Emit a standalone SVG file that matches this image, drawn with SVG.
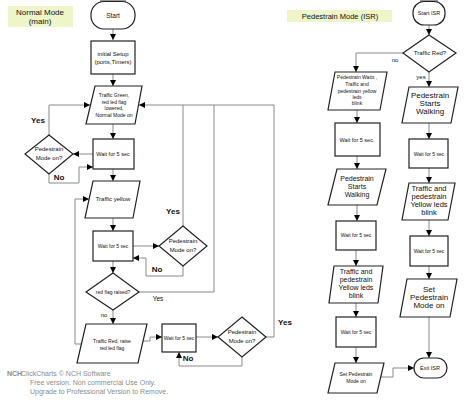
<svg xmlns="http://www.w3.org/2000/svg" width="474" height="401" viewBox="0 0 474 401">
<style>
.s{fill:#fff;stroke:#222;stroke-width:1.2}
.lab{fill:#eef5c8;stroke:none}
.t{font-family:"Liberation Sans",Arial,sans-serif;fill:#111;text-anchor:middle}
.b{font-weight:bold;font-size:8px}
.c{fill:none;stroke:#8a8a8a;stroke-width:1}
.w{font-family:"Liberation Sans",Arial,sans-serif;fill:#8c8c8c;font-size:7px}
</style>
<defs>
<marker id="arr" viewBox="0 0 10 10" refX="10" refY="5" markerWidth="6" markerHeight="6" markerUnits="userSpaceOnUse" orient="auto"><path d="M0,0 L10,5 L0,10 z" fill="#000"/></marker>
</defs>
<rect width="474" height="401" fill="#fff"/>

<g id="connectors">
<path class="c" marker-end="url(#arr)" d="M113,29 V40"/>
<path class="c" marker-end="url(#arr)" d="M113,74 V86"/>
<path class="c" marker-end="url(#arr)" d="M113,124 V139"/>
<path class="c" marker-end="url(#arr)" d="M93,154 H73"/>
<path class="c" marker-end="url(#arr)" d="M49,135 V105 H90"/>
<path class="c" marker-end="url(#arr)" d="M49,174 V183 H79 V167 H93"/>
<path class="c" marker-end="url(#arr)" d="M113,169 V181"/>
<path class="c" marker-end="url(#arr)" d="M113,218 V231"/>
<path class="c" marker-end="url(#arr)" d="M133,246 H159"/>
<path class="c" d="M183,226 V105"/>
<path class="c" marker-end="url(#arr)" d="M183,266 V276 H146 V258 H133"/>
<path class="c" marker-end="url(#arr)" d="M113,261 V273"/>
<path class="c" d="M139,292 H214 V105"/>
<path class="c" marker-end="url(#arr)" d="M113,310 V324"/>
<path class="c" marker-end="url(#arr)" d="M81,344 H75 V199 H89"/>
<path class="c" marker-end="url(#arr)" d="M143,341 H150 V337 H162"/>
<path class="c" marker-end="url(#arr)" d="M196,337 H218"/>
<path class="c" marker-end="url(#arr)" d="M266,337 H274 V105 H139"/>
<path class="c" marker-end="url(#arr)" d="M242,357 V366 H179 V352"/>

<path class="c" marker-end="url(#arr)" d="M429,25 V35"/>
<path class="c" marker-end="url(#arr)" d="M403,53 H356 V72"/>
<path class="c" marker-end="url(#arr)" d="M429,72 V87"/>
<path class="c" marker-end="url(#arr)" d="M357,110 V123"/>
<path class="c" marker-end="url(#arr)" d="M357,156 V169"/>
<path class="c" marker-end="url(#arr)" d="M357,205 V221"/>
<path class="c" marker-end="url(#arr)" d="M356,250 V266"/>
<path class="c" marker-end="url(#arr)" d="M356,303 V317"/>
<path class="c" marker-end="url(#arr)" d="M356,347 V363"/>
<path class="c" marker-end="url(#arr)" d="M381,377 H393 V368 H414"/>
<path class="c" marker-end="url(#arr)" d="M429,123 V139"/>
<path class="c" marker-end="url(#arr)" d="M429,168 V183"/>
<path class="c" marker-end="url(#arr)" d="M429,220 V236"/>
<path class="c" marker-end="url(#arr)" d="M429,266 V279"/>
<path class="c" marker-end="url(#arr)" d="M429,317 V358"/>
</g>

<g id="edge-labels">
<text class="t b" x="38" y="123">Yes</text>
<text class="t b" x="59" y="180">No</text>
<text class="t b" x="173" y="214">Yes</text>
<text class="t b" x="157" y="272">No</text>
<text class="t" x="158" y="301" font-size="6.5">Yes</text>
<text class="t" x="104" y="317" font-size="6">no</text>
<text class="t b" x="285" y="325">Yes</text>
<text class="t b" x="188" y="361">No</text>
<text class="t" x="395" y="62" font-size="6">no</text>
<text class="t" x="421" y="79" font-size="6">yes</text>
</g>

<g id="label-normal">
<rect class="lab" x="8" y="6" width="65" height="21"/>
<text class="t" x="40" y="15" font-size="8">Normal Mode</text>
<text class="t" x="40" y="24" font-size="8">(main)</text>
</g>

<g id="start">
<rect x="100" y="0" width="26" height="2" fill="#999"/>
<rect class="s" x="91" y="1.5" width="44" height="27.5" rx="13"/>
<text class="t" x="113" y="18" font-size="6.5">Start</text>
</g>

<g id="setup">
<rect class="s" x="91" y="41" width="44" height="33"/>
<text class="t" x="113" y="56" font-size="6">initial Setup</text>
<text class="t" x="113" y="64" font-size="6">(ports,Timers)</text>
</g>

<g id="traffic-green">
<polygon class="s" points="95,86 142,86 135,124 86,124"/>
<text class="t" x="114" y="97" font-size="5">Traffic Green,</text>
<text class="t" x="114" y="103.5" font-size="5">red led flag</text>
<text class="t" x="114" y="110" font-size="5">lowered,</text>
<text class="t" x="114" y="116.5" font-size="5">Normal Mode on</text>
</g>

<g id="wait1">
<rect class="s" x="93" y="139" width="41" height="30"/>
<text class="t" x="113" y="156" font-size="5.5">Wait for 5 sec</text>
</g>

<g id="ped1">
<polygon class="s" points="49,135 73,154 49,174 25,154"/>
<text class="t" x="49" y="151" font-size="6">Pedestrain</text>
<text class="t" x="49" y="160" font-size="6">Mode on?</text>
</g>

<g id="traffic-yellow">
<polygon class="s" points="93,181 140,181 133,218 85,218"/>
<text class="t" x="113" y="201" font-size="6">Traffic yellow</text>
</g>

<g id="wait2">
<rect class="s" x="93" y="231" width="40" height="30"/>
<text class="t" x="113" y="248" font-size="5">Wait for 5 sec</text>
</g>

<g id="ped2">
<polygon class="s" points="183,226 207,246 183,266 159,246"/>
<text class="t" x="183" y="243" font-size="6">Pedestrain</text>
<text class="t" x="183" y="252" font-size="6">Mode on?</text>
</g>

<g id="red-flag">
<polygon class="s" points="113,273 139,292 113,310 86,292"/>
<text class="t" x="113" y="294" font-size="5">red flag raised?</text>
</g>

<g id="traffic-red">
<polygon class="s" points="86,324 147,324 138,363 77,363"/>
<text class="t" x="112" y="343" font-size="5">Traffic Red, raise</text>
<text class="t" x="112" y="350" font-size="5">red led flag</text>
</g>

<g id="wait3">
<rect class="s" x="162" y="324" width="34" height="28"/>
<text class="t" x="179" y="340" font-size="5">Wait for 5 sec</text>
</g>

<g id="ped3">
<polygon class="s" points="242,317 266,337 242,357 218,337"/>
<text class="t" x="242" y="334" font-size="6">Pedestrain</text>
<text class="t" x="242" y="343" font-size="6">Mode on?</text>
</g>

<g id="label-isr">
<rect class="lab" x="287" y="10" width="105" height="12"/>
<text class="t" x="340" y="19" font-size="7.5">Pedestrain Mode (ISR)</text>
</g>

<g id="start-isr">
<rect x="420" y="0" width="18" height="2" fill="#999"/>
<rect class="s" x="413" y="1.5" width="32" height="23.5" rx="11"/>
<text class="t" x="429" y="15" font-size="5.5">Start ISR</text>
</g>

<g id="traffic-red-q">
<polygon class="s" points="429,35 456,53 429,72 403,53"/>
<text class="t" x="430" y="55" font-size="6">Traffic Red?</text>
</g>

<g id="ped-waits">
<polygon class="s" points="335,72 387,72 380,110 328,110"/>
<text class="t" x="357" y="79" font-size="5">Pedestrain Waits ,</text>
<text class="t" x="357" y="86" font-size="5">Traffic and</text>
<text class="t" x="357" y="93" font-size="5">pedestrain yellow</text>
<text class="t" x="357" y="99" font-size="5">leds</text>
<text class="t" x="357" y="105" font-size="5">blink</text>
</g>

<g id="wait-l1">
<rect class="s" x="335" y="123" width="45" height="33"/>
<text class="t" x="357" y="142" font-size="5.5">Wait for 5 sec.</text>
</g>

<g id="walk-l">
<polygon class="s" points="337,169 386,169 377,205 328,205"/>
<text class="t" x="357" y="181" font-size="7">Pedestrain</text>
<text class="t" x="357" y="189" font-size="7">Starts</text>
<text class="t" x="357" y="197" font-size="7">Walking</text>
</g>

<g id="wait-l2">
<rect class="s" x="336" y="221" width="40" height="29"/>
<text class="t" x="356" y="237" font-size="5">Wait for 5 sec</text>
</g>

<g id="blink-l">
<polygon class="s" points="334,266 383,266 378,303 329,303"/>
<text class="t" x="356" y="274" font-size="7">Traffic and</text>
<text class="t" x="356" y="282" font-size="7">pedestrain</text>
<text class="t" x="356" y="290" font-size="7">Yellow leds</text>
<text class="t" x="356" y="298" font-size="7">blink</text>
</g>

<g id="wait-l3">
<rect class="s" x="336" y="317" width="40" height="30"/>
<text class="t" x="356" y="334" font-size="5">Wait for 5 sec</text>
</g>

<g id="set-l">
<polygon class="s" points="335,363 384,363 377,393 328,393"/>
<text class="t" x="356" y="376" font-size="5">Set Pedestrain</text>
<text class="t" x="356" y="383" font-size="5">Mode on</text>
</g>

<g id="exit-isr">
<rect class="s" x="414" y="358" width="33" height="20" rx="10"/>
<text class="t" x="430" y="370" font-size="5.5">Exit ISR</text>
</g>

<g id="walk-r">
<polygon class="s" points="409,87 458,87 451,123 402,123"/>
<text class="t" x="430" y="98" font-size="8">Pedestrain</text>
<text class="t" x="430" y="106" font-size="8">Starts</text>
<text class="t" x="430" y="114" font-size="8">Walking</text>
</g>

<g id="wait-r1">
<rect class="s" x="409" y="139" width="39" height="29"/>
<text class="t" x="429" y="156" font-size="5">Wait for 5 sec</text>
</g>

<g id="blink-r">
<polygon class="s" points="409,183 455,183 448,220 402,220"/>
<text class="t" x="429" y="191" font-size="7.5">Traffic and</text>
<text class="t" x="429" y="199" font-size="7.5">pedestrain</text>
<text class="t" x="429" y="207" font-size="7.5">Yellow leds</text>
<text class="t" x="429" y="215" font-size="7.5">blink</text>
</g>

<g id="wait-r2">
<rect class="s" x="410" y="236" width="38" height="30"/>
<text class="t" x="429" y="253" font-size="5">Wait for 5 sec</text>
</g>

<g id="set-r">
<polygon class="s" points="407,279 457,279 450,317 400,317"/>
<text class="t" x="429" y="292" font-size="8">Set</text>
<text class="t" x="429" y="300" font-size="8">Pedestrain</text>
<text class="t" x="429" y="308" font-size="8">Mode on</text>
</g>

<g id="watermark">
<text class="w" x="7" y="376" font-size="5.5" font-weight="bold">NCH</text>
<text class="w" x="21" y="376">ClickCharts © NCH Software</text>
<text class="w" x="30" y="385">Free version. Non commercial Use Only.</text>
<text class="w" x="30" y="394">Upgrade to Professional Version to Remove.</text>
</g>
</svg>
